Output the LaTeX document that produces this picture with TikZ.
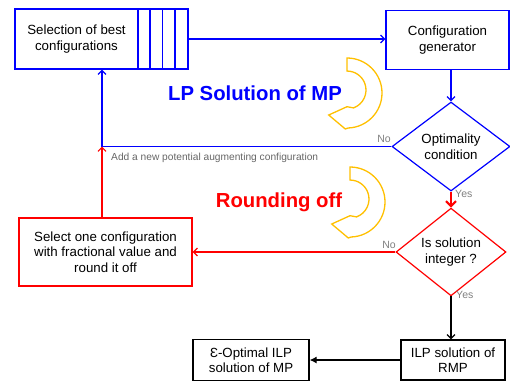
\documentclass[tikz,border=0pt]{standalone}
\usepackage{fontspec}
\setmainfont{Liberation Sans}
\usetikzlibrary{shapes.geometric,arrows.meta}
\definecolor{myblue}{HTML}{0000FF}
\definecolor{myred}{HTML}{FF0000}
\definecolor{gold}{HTML}{FFC000}
\definecolor{lbl}{HTML}{808080}
\definecolor{note}{HTML}{666666}
\tikzset{
  box/.style={draw, rectangle, line width=1.2pt, inner sep=0pt, align=center,
    font=\fontsize{13.3}{15.5}\selectfont, text=black},
  decision/.style={draw, diamond, line width=1.2pt, inner sep=0pt, align=center,
    font=\fontsize{13.3}{15.5}\selectfont, text=black},
  conn/.style={line width=1.2pt, -{Straight Barb[length=4pt,width=8pt]}},
  lab/.style={text=lbl, font=\fontsize{10.5}{12}\selectfont, inner sep=0pt},
  title/.style={font=\fontsize{20.3}{24}\selectfont\bfseries, inner sep=0pt},
  bendarrow/.pic={
    \draw[gold, fill=white, line width=1.3pt, line join=miter]
      (0,-35) arc[start angle=-90, end angle=88, radius=35]
      -- (-1.7,36) -- (-18.3,22) -- (0,13.7) -- (6.5,14.9)
      arc[start angle=70, end angle=-90, radius=19] -- cycle;
  }
}
\begin{document}
\begin{tikzpicture}[x=1pt,y=-1pt]
\useasboundingbox (0,0) rectangle (510,381);
% nodes
\node[box, draw=myblue, minimum width=123, minimum height=60] (sel) at (76.5,39) {Selection of best\\configurations};
\node[box, draw=myblue, minimum width=50, minimum height=60] (queue) at (163,39) {};
\foreach \i in {1,2,3}
  \draw[myblue, line width=1.2pt] ([xshift=12.5*\i pt]queue.north west) -- ([xshift=12.5*\i pt]queue.south west);
\node[box, draw=myblue, minimum width=123, minimum height=59] (gen) at (447.5,40) {Configuration\\generator};
\node[decision, draw=myblue, minimum width=118, minimum height=89] (opt) at (451,146.5) {Optimality\\condition};
\node[decision, draw=myred, minimum width=110, minimum height=80] (int) at (451,252) {Is solution\\integer ?};
\node[box, draw=myred, minimum width=173, minimum height=68] (sel1) at (105.5,252) {Select one configuration\\with fractional value and\\round it off};
\node[box, draw=black, minimum width=104, minimum height=40] (ilp) at (453,360) {ILP solution of\\RMP};
\node[box, draw=black, minimum width=116, minimum height=41] (eps) at (251,360) {Ɛ-Optimal ILP\\solution of MP};
% titles
\node[title, text=myblue, anchor=base] (t1) at (255,100) {LP Solution of MP};
\node[title, text=myred, anchor=base] (t2) at (279,207.5) {Rounding off};
\pic at (347,93) {bendarrow};
\pic at (350,202) {bendarrow};
% connectors
\coordinate (j) at (102,146.5);
\draw[conn, myblue] (queue.east) -- (gen.west |- queue.east);
\draw[conn, myblue] (gen.south -| opt.north) -- (opt.north);
\draw[conn, myblue] (opt.west) -- (j) -- (sel.south -| j);
\draw[conn, myred] (sel1.north -| j) -- (j);
\draw[myred, line width=2pt, -{Straight Barb[length=5pt,width=10pt]}] (opt.south) -- (int.north);
\draw[conn, myred] (int.west) -- (sel1.east);
\draw[conn, black] (int.south) -- (ilp.north -| int.south);
\draw[black, line width=1.2pt, -{Latex[length=7pt,width=7pt]}] (ilp.west) -- (eps.east);
% labels
\node[lab, anchor=base east] (no1) at (391,142) {No};
\node[lab, anchor=base west] (yes1) at (455,197) {Yes};
\node[lab, anchor=base east] (no2) at (396,248) {No};
\node[lab, anchor=base west] (yes2) at (456,298.5) {Yes};
\node[text=note, font=\fontsize{10.2}{12}\selectfont, inner sep=0pt, anchor=base west] (add) at (111,160) {Add a new potential augmenting configuration};
\end{tikzpicture}
\end{document}
